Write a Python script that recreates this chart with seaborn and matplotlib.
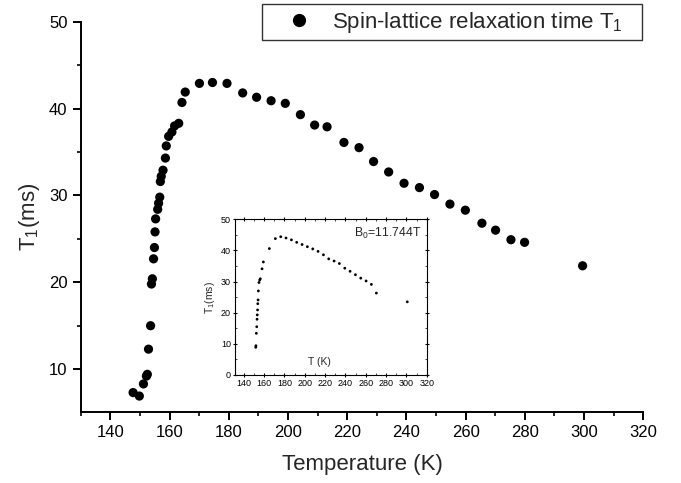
import numpy as np
import pandas as pd
import matplotlib
matplotlib.use("Agg")
import matplotlib.pyplot as plt
from matplotlib.ticker import MultipleLocator
from matplotlib.lines import Line2D
import seaborn as sns

# ---- data ----
main_T = [147.7, 149.8, 151.2, 152.2, 152.5, 152.9, 153.6, 153.9, 154.2, 154.6,
          154.9, 155.1, 155.3, 156.0, 156.3, 156.7, 156.9, 157.2, 157.8, 158.6,
          158.9, 159.7, 160.8, 161.7, 163.1, 164.2, 165.3, 170.1, 174.5, 179.4,
          184.7, 189.4, 194.3, 199.1, 204.2, 209.0, 213.2, 218.9, 224.0, 228.9,
          234.0, 239.2, 244.4, 249.5, 254.7, 259.9, 265.5, 270.1, 275.3, 279.9,
          299.5]
main_T1 = [7.3, 6.9, 8.3, 9.2, 9.4, 12.3, 15.0, 19.8, 20.4, 22.7,
           24.0, 25.8, 27.3, 28.4, 29.1, 29.8, 31.6, 32.2, 32.9, 34.3,
           35.7, 36.8, 37.3, 38.0, 38.3, 40.7, 41.9, 42.9, 43.0, 42.9,
           41.8, 41.3, 40.9, 40.6, 39.3, 38.1, 37.9, 36.1, 35.5, 33.9,
           32.7, 31.4, 30.9, 30.1, 29.0, 28.3, 26.8, 26.0, 24.9, 24.6,
           21.9]

inset_T = [151.8, 152.0, 152.4, 152.8, 153.1, 153.3, 153.6, 153.8, 154.1, 154.4,
           155.0, 155.7, 156.3, 158.0, 159.3, 165.2, 171.1, 176.4, 181.6, 186.9,
           192.1, 197.4, 202.6, 207.9, 213.1, 218.4, 223.6, 228.9, 234.1, 239.4,
           244.6, 249.9, 255.1, 260.4, 265.6, 270.5, 300.9]
inset_T1 = [8.9, 9.4, 13.4, 15.5, 17.9, 19.3, 20.9, 22.9, 24.1, 27.0,
            29.7, 30.5, 30.9, 34.1, 36.3, 40.6, 43.8, 44.4, 44.0, 43.4,
            42.6, 41.9, 41.2, 40.5, 39.7, 38.6, 37.3, 36.6, 35.8, 34.3,
            33.3, 32.2, 31.1, 30.2, 29.1, 26.3, 23.5]

main_xticks = [140, 160, 180, 200, 220, 240, 260, 280, 300, 320]
main_yticks = [10, 20, 30, 40, 50]
inset_yticks = [0, 10, 20, 30, 40, 50]

legend_label = "Spin-lattice relaxation time T$_{\\rm 1}$   "
field_label = "B$_{\\rm 0}$=11.744T"

# ---- style ----
sns.set_theme(style="ticks")
plt.rcParams["font.family"] = ["Liberation Sans", "DejaVu Sans"]
plt.rcParams["mathtext.fontset"] = "custom"
plt.rcParams["mathtext.rm"] = "Liberation Sans"
plt.rcParams["mathtext.it"] = "Liberation Sans:italic"
plt.rcParams["mathtext.bf"] = "Liberation Sans:bold"

fig = plt.figure(figsize=(6.81, 4.83), dpi=100)
W, H = 681.0, 483.0

# main axes
ax = fig.add_axes([80.7 / W, (H - 411.7) / H, (643.3 - 80.7) / W, (411.7 - 21.7) / H])
df_main = pd.DataFrame({"T": main_T, "T1": main_T1})
sns.scatterplot(data=df_main, x="T", y="T1", ax=ax, color="black", s=44,
                edgecolor="none", linewidth=0, legend=False)
ax.set_xlim(130, 320)
ax.set_ylim(5.1, 50)
ax.set_xticks(main_xticks)
ax.set_yticks(main_yticks)
ax.xaxis.set_minor_locator(MultipleLocator(10))
ax.yaxis.set_minor_locator(MultipleLocator(5))
for s in ["top", "right"]:
    ax.spines[s].set_visible(False)
for s in ["left", "bottom"]:
    ax.spines[s].set_linewidth(1.4)
    ax.spines[s].set_color("black")
ax.tick_params(axis="both", which="major", direction="out", length=5.5, width=1.4,
               labelsize=12, colors="black", pad=4)
ax.tick_params(axis="both", which="minor", direction="out", length=3, width=1.2, colors="black")
ax.set_xlabel("Temperature (K)", fontsize=16, labelpad=10)
ax.set_ylabel("T$_{\\rm 1}$(ms)", fontsize=16, labelpad=5)

# legend
h = Line2D([], [], marker="o", linestyle="none", color="black", markersize=8.5)
leg = fig.legend([h], [legend_label], loc="upper right",
                 bbox_to_anchor=(642 / W, (H - 4) / H), fontsize=16,
                 frameon=True, fancybox=False, edgecolor="black",
                 borderpad=0.25, handletextpad=0.1, handlelength=2.8,
                 borderaxespad=0)
leg.get_frame().set_linewidth(1.0)

# inset axes
ax_in = fig.add_axes([235 / W, (H - 375) / H, (426.7 - 235) / W, (375 - 219.3) / H])
df_in = pd.DataFrame({"T": inset_T, "T1": inset_T1})
sns.scatterplot(data=df_in, x="T", y="T1", ax=ax_in, color="black", s=4,
                edgecolor="none", linewidth=0, legend=False)
ax_in.set_xlim(131.4, 320)
ax_in.set_ylim(0, 50)
ax_in.set_xticks(main_xticks)
ax_in.set_yticks(inset_yticks)
ax_in.xaxis.set_minor_locator(MultipleLocator(10))
ax_in.yaxis.set_minor_locator(MultipleLocator(5))
for s in ax_in.spines.values():
    s.set_linewidth(0.8)
    s.set_color("black")
ax_in.tick_params(axis="both", which="major", direction="inout", length=3, width=0.8,
                  labelsize=6.5, colors="black", pad=1.5, top=True, right=True)
ax_in.tick_params(axis="both", which="minor", direction="in", length=1.5, width=0.6,
                  top=True, right=True)
ax_in.set_xlabel("")
ax_in.set_ylabel("T$_{\\rm 1}$(ms)", fontsize=7.5, labelpad=3)
ax_in.text(0.443, 0.085, "T (K)", transform=ax_in.transAxes, fontsize=7.5,
           ha="center", va="center")
ax_in.text(0.62, 0.912, field_label, transform=ax_in.transAxes, fontsize=8.8,
           ha="left", va="center")

fig.savefig("out.png", dpi=100)
